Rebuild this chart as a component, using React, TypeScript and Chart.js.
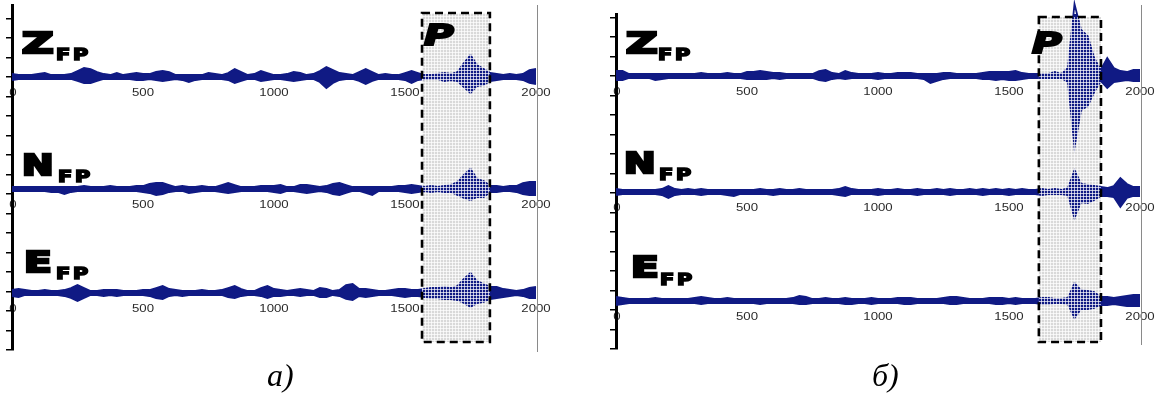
import React, { useEffect, useRef } from "react";
import { Chart, registerables } from "chart.js";

Chart.register(...registerables);

// sample index (time axis), every 25 samples
const TIME = [
  0, 25, 50, 75, 100, 125, 150, 175, 200, 225, 250, 275, 300, 325, 350, 375, 400, 425, 450, 475,
  500, 525, 550, 575, 600, 625, 650, 675, 700, 725, 750, 775, 800, 825, 850, 875, 900, 925, 950, 975,
  1000, 1025, 1050, 1075, 1100, 1125, 1150, 1175, 1200, 1225, 1250, 1275, 1300, 1325, 1350, 1375, 1400, 1425, 1450, 1475,
  1500, 1525, 1550, 1575, 1600, 1625, 1650, 1675, 1700, 1725, 1750, 1775, 1800, 1825, 1850, 1875, 1900, 1925, 1950, 1975, 2000,
];
const X_TICKS = [0, 500, 1000, 1500, 2000];

// Panel a) — upper / lower envelopes of each trace
const ZA_UP = [3,2,2,2,3,4,2,2,2,3, 6,9,8,5,3,2,4,2,3,4, 3,3,5,6,5,2,2,2,2,2, 4,3,2,4,8,5,2,3,6,4, 2,2,3,5,4,2,3,6,10,7, 4,3,2,5,8,5,2,3,2,2, 4,6,4,2,2,3,4,3,5,14, 22,12,8,4,3,2,3,2,3,7,8];
const ZA_DN = [3,2,2,2,2,2,2,2,2,2, 4,6,6,4,2,2,2,2,2,3, 3,2,3,4,3,2,3,5,3,2, 2,2,2,3,6,4,2,2,4,3, 2,2,3,4,3,2,2,5,11,6, 3,2,2,4,7,4,2,2,2,2, 3,6,3,2,2,2,4,3,4,10, 16,9,8,4,3,2,2,2,3,6,7];
const NA_UP = [2,2,2,2,2,2,2,2,2,2, 2,3,2,2,2,3,2,2,2,3, 3,5,6,6,4,2,3,2,2,3, 2,2,4,6,4,2,2,2,3,3, 3,4,2,2,4,4,3,2,3,5, 6,4,2,2,2,2,2,2,2,3, 3,4,3,2,3,2,3,4,7,14, 20,10,8,3,3,2,3,3,6,7,7];
const NA_DN = [2,2,2,2,2,2,3,3,5,3, 2,2,2,2,2,2,2,2,2,2, 3,4,6,5,3,2,2,4,3,2, 2,2,3,4,3,2,2,2,2,2, 3,4,2,2,3,4,3,2,3,5, 6,4,2,2,4,6,2,2,2,2, 3,4,3,2,3,2,3,3,6,9, 11,8,8,3,3,2,2,3,5,6,6];
const EA_UP = [3,4,3,2,2,3,2,2,3,5, 8,5,2,2,3,3,3,2,2,2, 3,3,5,7,4,3,2,2,2,3, 2,2,3,5,7,4,2,2,5,7, 4,3,2,3,4,3,2,5,4,2, 3,8,9,4,4,3,2,2,3,4, 4,3,3,4,5,5,6,5,7,14, 20,12,9,6,6,4,3,2,3,5,6];
const EA_DN = [3,4,2,2,2,2,2,2,3,5, 8,5,2,2,3,2,3,2,2,2, 2,3,5,6,3,2,3,2,2,2, 2,2,2,4,5,3,2,2,3,5, 3,3,2,2,3,2,2,4,4,2, 3,6,7,3,4,3,2,2,2,3, 4,3,3,4,5,5,6,6,7,10, 14,10,9,6,5,4,3,2,3,5,5];

// Panel б)
const ZB_UP = [5,5,2,2,2,2,2,2,2,2, 2,2,2,3,2,2,2,3,2,2, 4,4,5,4,3,3,2,2,2,2, 2,5,6,3,2,5,3,2,2,2, 3,2,2,3,3,3,2,2,2,2, 3,3,2,2,2,2,3,4,4,4, 4,5,3,2,2,2,2,4,2,8, 72,46,40,18,6,18,8,5,4,6,6];
const ZB_DN = [4,4,2,2,2,2,4,3,2,2, 2,2,2,2,2,2,2,2,2,2, 3,3,3,3,2,3,2,2,2,2, 2,4,5,3,2,3,2,2,2,2, 3,2,2,2,2,2,2,3,7,5, 3,2,2,2,2,2,3,3,4,3, 4,4,3,2,2,2,2,2,2,6, 71,34,30,16,5,12,6,5,4,5,5];
const NB_UP = [3,2,2,2,2,2,2,3,6,3, 2,3,2,3,2,2,2,2,2,2, 2,2,3,2,2,3,2,2,3,2, 2,2,2,2,3,5,3,2,2,2, 3,2,2,3,2,2,3,2,2,3, 2,3,2,2,3,2,3,2,3,2, 3,2,3,2,2,3,2,3,2,4, 22,8,7,6,5,4,6,14,8,5,5];
const NB_DN = [3,2,2,2,2,2,2,3,6,3, 2,2,2,3,2,2,2,3,4,2, 2,2,2,2,3,2,2,2,2,2, 2,2,2,2,3,4,2,2,2,2, 3,2,2,2,2,2,3,2,2,2, 2,3,2,2,2,2,3,2,2,2, 3,2,2,2,2,3,2,2,2,3, 26,10,11,8,4,4,5,15,6,4,4];
const EB_UP = [4,3,2,2,2,2,3,2,2,2, 2,2,3,4,3,2,2,3,2,2, 2,2,2,2,2,2,2,3,5,4, 2,2,3,2,2,3,2,2,2,3, 2,2,2,3,3,3,2,2,2,2, 3,4,4,3,2,2,2,3,3,3, 2,3,2,2,2,3,3,2,2,3, 18,11,10,9,4,4,3,4,5,6,6];
const EB_DN = [4,3,2,2,2,2,2,2,2,2, 2,2,2,3,2,2,2,2,2,2, 2,2,3,2,2,2,2,2,3,3, 2,2,2,2,2,3,3,2,2,3, 2,2,2,2,3,3,2,2,2,2, 2,3,3,2,2,2,2,2,3,3, 2,3,2,2,2,3,3,2,2,3, 17,8,8,7,4,4,3,4,5,5,5];

// P-wave windows [start, end] in samples
const P_WINDOW_A = [1565, 1824];
const P_WINDOW_B = [1614, 1851];

const NAVY = "#101a84";
const HEAVY = '"DejaVu Sans"';

type Label = { t: string; x: number; y: number; sx: number; fx: number; fy: number };
type Cfg = {
  left: number; width: number; pad: { left: number; right: number; top: number; bottom: number };
  yMax: number; offsets: number[]; ups: number[][]; dns: number[][];
  win: number[]; winY: number[]; grayY: number[];
  labels: Label[]; p: { x: number; y: number }; caption: { t: string; x: number; y: number };
};

function heavy(ctx: CanvasRenderingContext2D, text: string, x: number, y: number, size: number, sx: number, stroke: number, italic = false) {
  ctx.save();
  ctx.translate(x, y);
  ctx.scale(sx, 1);
  ctx.font = `${italic ? "oblique " : ""}bold ${size}px ${HEAVY}`;
  ctx.fillStyle = "#000";
  ctx.strokeStyle = "#000";
  ctx.lineWidth = stroke;
  ctx.lineJoin = "miter";
  ctx.textBaseline = "alphabetic";
  ctx.textAlign = "left";
  ctx.fillText(text, 0, 0);
  ctx.strokeText(text, 0, 0);
  ctx.restore();
}

function tickText(ctx: CanvasRenderingContext2D, text: string, x: number, y: number) {
  ctx.save();
  ctx.translate(x, y);
  ctx.scale(1.2, 1);
  ctx.font = '11px "Liberation Sans"';
  ctx.fillStyle = "#2a2a2a";
  ctx.textAlign = "center";
  ctx.textBaseline = "middle";
  ctx.fillText(text, 0, 0);
  ctx.restore();
}

function makePlugin(cfg: Cfg) {
  return {
    id: "seismoDecor",
    beforeDraw(chart: any) {
      const { ctx } = chart;
      const xs = chart.scales.x, ys = chart.scales.y;
      const l = xs.getPixelForValue(cfg.win[0]), r = xs.getPixelForValue(cfg.win[1]);
      const t = ys.getPixelForValue(cfg.winY[0]), b = ys.getPixelForValue(cfg.winY[1]);
      ctx.save();
      ctx.fillStyle = "#d9d9d9";
      ctx.fillRect(l, t, r - l, b - t);
      ctx.restore();
      // "0" labels sit under the axis line
      cfg.offsets.forEach((off) => tickText(ctx, "0", xs.getPixelForValue(0) + 1, ys.getPixelForValue(off) + 16));
    },
    afterDatasetsDraw(chart: any) {
      const { ctx } = chart;
      const xs = chart.scales.x, ys = chart.scales.y;
      const l = xs.getPixelForValue(cfg.win[0]), r = xs.getPixelForValue(cfg.win[1]);
      const t = ys.getPixelForValue(cfg.winY[0]), b = ys.getPixelForValue(cfg.winY[1]);
      ctx.save();
      ctx.beginPath();
      ctx.rect(l, t, r - l, b - t);
      ctx.clip();
      ctx.strokeStyle = "rgba(255,255,255,0.7)";
      ctx.lineWidth = 1;
      ctx.beginPath();
      for (let x = Math.floor(l) + 0.5; x < r; x += 3) { ctx.moveTo(x, t); ctx.lineTo(x, b); }
      for (let y = Math.floor(t) + 0.5; y < b; y += 3) { ctx.moveTo(l, y); ctx.lineTo(r, y); }
      ctx.stroke();
      ctx.restore();
      ctx.save();
      ctx.strokeStyle = "#000";
      ctx.lineWidth = 2.6;
      ctx.setLineDash([8, 5]);
      ctx.strokeRect(l, t, r - l, b - t);
      ctx.restore();
    },
    afterDraw(chart: any) {
      const { ctx } = chart;
      const xs = chart.scales.x, ys = chart.scales.y;
      cfg.offsets.forEach((off) => {
        const py = ys.getPixelForValue(off) + 16;
        X_TICKS.forEach((v) => { if (v > 0) tickText(ctx, String(v), xs.getPixelForValue(v), py); });
      });
      // right frame line
      const gx = Math.round(xs.getPixelForValue(2000)) + 1.5;
      ctx.save();
      ctx.strokeStyle = "#8a8a8a";
      ctx.lineWidth = 1;
      ctx.beginPath();
      ctx.moveTo(gx, cfg.grayY[0]);
      ctx.lineTo(gx, cfg.grayY[1]);
      ctx.stroke();
      ctx.restore();
      cfg.labels.forEach((lb) => {
        heavy(ctx, lb.t, lb.x, lb.y, 29, lb.sx, 2.6);
        heavy(ctx, "F", lb.fx, lb.fy, 16, 1.3, 1.6);
        heavy(ctx, "P", lb.fx + 17, lb.fy, 16, 1.3, 1.6);
      });
      heavy(ctx, "P", cfg.p.x, cfg.p.y, 28, 1.45, 2, true);
      ctx.save();
      ctx.font = 'italic 32px "Liberation Serif"';
      ctx.fillStyle = "#000";
      ctx.textBaseline = "alphabetic";
      ctx.fillText(cfg.caption.t, cfg.caption.x, cfg.caption.y);
      ctx.restore();
    },
  };
}

function Panel({ cfg }: { cfg: Cfg }) {
  const ref = useRef<HTMLCanvasElement>(null);
  useEffect(() => {
    const datasets: any[] = [];
    cfg.offsets.forEach((off, k) => {
      datasets.push({
        data: TIME.map((t, i) => ({ x: t, y: off + cfg.ups[k][i] })),
        fill: "+1", backgroundColor: NAVY, borderColor: NAVY, borderWidth: 1.8,
        pointRadius: 0, tension: 0, clip: false,
      });
      datasets.push({
        data: TIME.map((t, i) => ({ x: t, y: off - cfg.dns[k][i] })),
        fill: false, borderColor: NAVY, borderWidth: 1.8,
        pointRadius: 0, tension: 0, clip: false,
      });
    });
    const chart = new Chart(ref.current!, {
      type: "line",
      data: { datasets },
      options: {
        responsive: false,
        animation: false,
        events: [],
        layout: { padding: cfg.pad },
        plugins: { legend: { display: false }, tooltip: { enabled: false } },
        scales: {
          x: { type: "linear", min: 0, max: 2000, display: false },
          y: {
            type: "linear", min: 0, max: cfg.yMax, position: "left",
            afterFit: (s: any) => { s.width = 12; },
            afterBuildTicks: (s: any) => {
              const ticks: any[] = [];
              for (let v = 0; v <= cfg.yMax + 0.01; v += 19.5) ticks.push({ value: v });
              s.ticks = ticks;
            },
            ticks: { display: false },
            grid: { display: true, drawOnChartArea: false, drawTicks: true, tickLength: 6, color: "#000", lineWidth: 1.5 },
            border: { display: true, color: "#000", width: 3 },
          },
        },
      } as any,
      plugins: [makePlugin(cfg)],
    });
    return () => chart.destroy();
  }, []);
  return (
    <canvas ref={ref} width={cfg.width} height={396}
      style={{ position: "absolute", left: cfg.left, top: 0, display: "block" }} />
  );
}

const CFG_A: Cfg = {
  left: 0, width: 560, pad: { left: 0, right: 24, top: 5, bottom: 46 },
  yMax: 345, offsets: [273, 161, 57],
  ups: [ZA_UP, NA_UP, EA_UP], dns: [ZA_DN, NA_DN, EA_DN],
  win: P_WINDOW_A, winY: [337, 8], grayY: [5, 352],
  labels: [
    { t: "Z", x: 22, y: 53, sx: 1.5, fx: 56, fy: 60 },
    { t: "N", x: 22, y: 175, sx: 1.3, fx: 58, fy: 182 },
    { t: "E", x: 24, y: 272, sx: 1.4, fx: 56, fy: 279 },
  ],
  p: { x: 424, y: 45 },
  caption: { t: "а)", x: 267, y: 386 },
};

const CFG_B: Cfg = {
  left: 600, width: 557, pad: { left: 4, right: 17, top: 14, bottom: 47 },
  yMax: 335, offsets: [273, 157, 48],
  ups: [ZB_UP, NB_UP, EB_UP], dns: [ZB_DN, NB_DN, EB_DN],
  win: P_WINDOW_B, winY: [332, 7], grayY: [5, 345],
  labels: [
    { t: "Z", x: 26, y: 53, sx: 1.5, fx: 58, fy: 60 },
    { t: "N", x: 24, y: 173, sx: 1.3, fx: 59, fy: 180 },
    { t: "E", x: 31, y: 277, sx: 1.4, fx: 60, fy: 285 },
  ],
  p: { x: 432, y: 53 },
  caption: { t: "б)", x: 272, y: 386 },
};

export default function App() {
  return (
    <div style={{ position: "absolute", left: 0, top: 0, width: 1157, height: 396, background: "#fff", overflow: "hidden" }}>
      <Panel cfg={CFG_A} />
      <Panel cfg={CFG_B} />
    </div>
  );
}
